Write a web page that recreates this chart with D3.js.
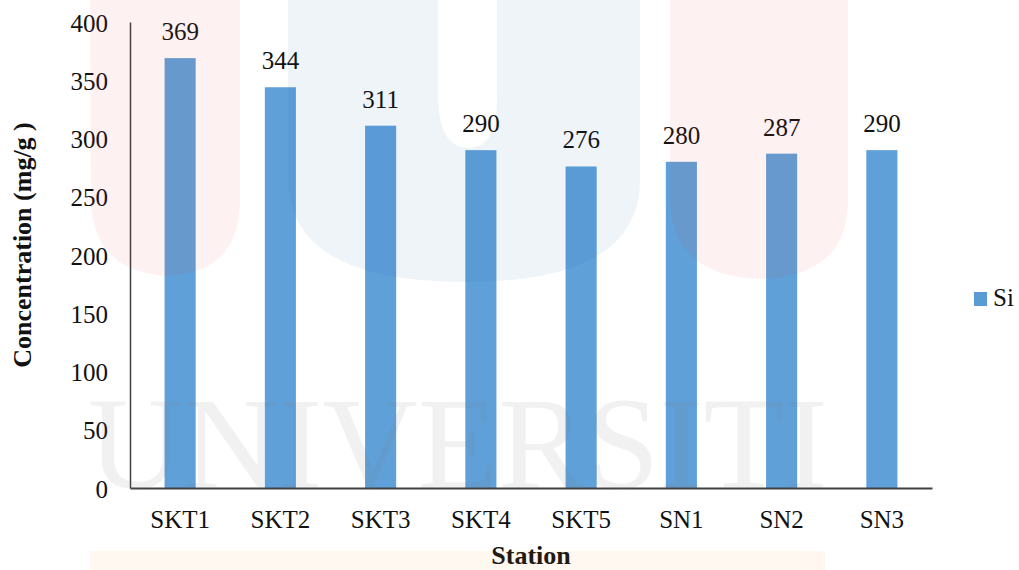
<!DOCTYPE html>
<html>
<head>
<meta charset="utf-8">
<script src="https://cdn.jsdelivr.net/npm/d3@7/dist/d3.min.js"></script>
<style>
  html, body { margin: 0; padding: 0; background: #fff; }
  svg { display: block; }
  svg text { font-family: 'Liberation Serif', 'Times New Roman', Tinos, 'DejaVu Serif', serif; }
</style>
</head>
<body>
<svg id="chart" width="1019" height="570"></svg>
<script>
// Si concentration per sampling station
const stations = ["SKT1", "SKT2", "SKT3", "SKT4", "SKT5", "SN1", "SN2", "SN3"];
const siValues = [369, 344, 311, 290, 276, 280, 287, 290];
const yTicks = [0, 50, 100, 150, 200, 250, 300, 350, 400];
const seriesName = "Si";

const FONT = "'Liberation Serif', 'Times New Roman', Tinos, 'DejaVu Serif', serif";
const svg = d3.select("#chart");
const W = 1019, H = 570;
const margin = { left: 130, right: 87, top: 22, bottom: 82 };
const innerW = W - margin.left - margin.right;
const innerH = H - margin.top - margin.bottom;

const g = svg.append("g").attr("transform", `translate(${margin.left},${margin.top})`);

const x = d3.scaleBand().domain(stations).range([0, innerW]).paddingInner(0.69).paddingOuter(0.345);
const y = d3.scaleLinear().domain([0, 400]).range([innerH, 0]);

// Bars
g.selectAll("rect.bar")
  .data(stations)
  .join("rect")
  .attr("class", "bar")
  .attr("x", d => x(d))
  .attr("y", (d, i) => y(siValues[i]))
  .attr("width", x.bandwidth())
  .attr("height", (d, i) => innerH - y(siValues[i]))
  .attr("fill", "#5fa0d9");

// Value labels
g.selectAll("text.val")
  .data(stations)
  .join("text")
  .attr("class", "val")
  .attr("x", d => x(d) + x.bandwidth() / 2)
  .attr("y", (d, i) => y(siValues[i]) - 18)
  .attr("text-anchor", "middle")
  .style("font-family", FONT)
  .style("font-size", "25px")
  .attr("fill", "#111")
  .text((d, i) => siValues[i]);

// Y axis
const yAxis = g.append("g")
  .call(d3.axisLeft(y).tickValues(yTicks).tickSize(0).tickPadding(22));
yAxis.select(".domain").attr("stroke", "#404040").attr("stroke-width", 1.5);
yAxis.selectAll("text")
  .style("font-family", FONT)
  .style("font-size", "25px")
  .attr("fill", "#111")
  .attr("dy", "0.36em");

// X axis
const xAxis = g.append("g")
  .attr("transform", `translate(0,${innerH})`)
  .call(d3.axisBottom(x).tickSize(0).tickPadding(22));
xAxis.select(".domain").attr("stroke", "#404040").attr("stroke-width", 2);
xAxis.selectAll("text")
  .style("font-family", FONT)
  .style("font-size", "25px")
  .attr("fill", "#111");

// Axis titles
svg.append("text")
  .attr("x", 531).attr("y", 564)
  .attr("text-anchor", "middle")
  .style("font-family", FONT)
  .style("font-size", "26px")
  .style("font-weight", "bold")
  .attr("fill", "#111")
  .text("Station");

svg.append("text")
  .attr("transform", "translate(31,245) rotate(-90)")
  .attr("text-anchor", "middle")
  .style("font-family", FONT)
  .style("font-size", "26px")
  .style("font-weight", "bold")
  .attr("fill", "#111")
  .text("Concentration (mg/g )");

// Legend
const legend = svg.append("g").attr("transform", "translate(974,292)");
legend.append("rect").attr("width", 13).attr("height", 14).attr("fill", "#5b9bd5");
legend.append("text")
  .attr("x", 19).attr("y", 14)
  .style("font-family", FONT)
  .style("font-size", "25px")
  .attr("fill", "#111")
  .text(seriesName);

// Translucent emblem and lettering laid over the page
const wm = svg.append("g").style("pointer-events", "none");
wm.append("path")
  .attr("d", "M90,0 H240 V200 Q240,272 168,276 Q93,272 91,200 Z")
  .attr("fill", "#e64141").attr("fill-opacity", 0.075);
wm.append("path")
  .attr("d", "M670,0 H848 V200 Q848,276 760,279 Q672,276 670,200 Z")
  .attr("fill", "#e64141").attr("fill-opacity", 0.075);
wm.append("path")
  .attr("d", "M288,0 H438 V100 Q440,148 468,148 Q497,148 497,100 V0 H640 V180 Q640,282 465,282 Q290,282 288,180 Z")
  .attr("fill", "#1e64aa").attr("fill-opacity", 0.07);
wm.append("text")
  .attr("x", 458).attr("y", 488)
  .attr("text-anchor", "middle")
  .style("font-family", FONT)
  .style("font-size", "132px")
  .attr("textLength", 740)
  .attr("lengthAdjust", "spacingAndGlyphs")
  .attr("fill", "#808080").attr("fill-opacity", 0.11)
  .text("UNIVERSITI");
wm.append("rect")
  .attr("x", 90).attr("y", 551).attr("width", 735).attr("height", 19)
  .attr("fill", "#ff9a3c").attr("fill-opacity", 0.07);
</script>
</body>
</html>
